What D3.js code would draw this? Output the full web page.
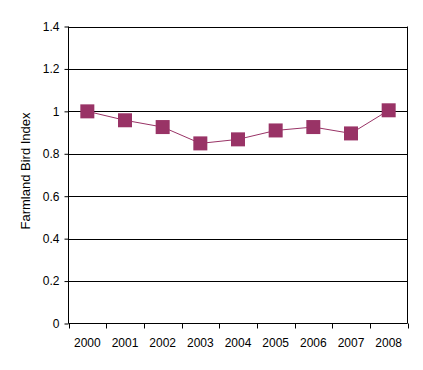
<!DOCTYPE html>
<html><head><meta charset="utf-8">
<script src="https://cdn.jsdelivr.net/npm/d3@7"></script>
<style>body{margin:0;background:#fff}svg{display:block}text{font-family:"Liberation Sans",Arial,sans-serif;}</style>
</head><body><svg id="c" width="423" height="370"></svg>
<script>
const years = ["2000","2001","2002","2003","2004","2005","2006","2007","2008"];
const birdIndex = [1.0, 0.958, 0.926, 0.849, 0.868, 0.910, 0.926, 0.896, 1.005];
const yTicks = [0, 0.2, 0.4, 0.6, 0.8, 1, 1.2, 1.4];
const yLabel = "Farmland Bird Index";

const svg = d3.select("#c");
const L = 68.5, R = 407.5, T = 26.5, B = 323.5;
const color = "#993366";
const x = d3.scaleBand().domain(years).range([L, R]).padding(0);
const y = d3.scaleLinear().domain([0, 1.4]).range([B, T]);

// gridlines
svg.append("g").selectAll("line").data(yTicks.filter(d => d > 0)).join("line")
  .attr("x1", L).attr("x2", R).attr("y1", d => Math.round(y(d)) + 0.5).attr("y2", d => Math.round(y(d)) + 0.5)
  .attr("stroke", "#000").attr("stroke-width", 1);
// right border
svg.append("line").attr("x1", R).attr("x2", R).attr("y1", T).attr("y2", B).attr("stroke", "#000");

// y axis
const yAxis = d3.axisLeft(y).tickValues(yTicks).tickFormat(d => String(d)).tickSize(4).tickPadding(5);
const gy = svg.append("g").attr("transform", `translate(${L},0)`).call(yAxis);
gy.select(".domain").attr("d", `M0,${T}V${B}`);
gy.selectAll("text").attr("font-size", 12).attr("font-family", "Liberation Sans, Arial, sans-serif").attr("fill", "#000");
gy.selectAll(".tick line").attr("stroke", "#000");

// x axis with ticks between categories
const gx = svg.append("g").attr("transform", `translate(0,${B})`);
gx.append("line").attr("x1", L).attr("x2", R).attr("y1", 0).attr("y2", 0).attr("stroke", "#000");
const bounds = years.map(d => x(d)).concat([x(years[years.length-1]) + x.bandwidth()]);
gx.selectAll("line.tk").data(bounds).join("line").attr("class", "tk")
  .attr("x1", d => Math.round(d) + 0.5).attr("x2", d => Math.round(d) + 0.5).attr("y1", 0).attr("y2", 5).attr("stroke", "#000");
gx.selectAll("text").data(years).join("text")
  .attr("x", d => x(d) + x.bandwidth() / 2).attr("y", 23)
  .attr("text-anchor", "middle").attr("font-size", 12).attr("fill", "#000").text(d => d);

// y label
svg.append("text").attr("transform", `translate(30,171) rotate(-90)`)
  .attr("text-anchor", "middle").attr("font-size", 13).attr("fill", "#000").text(yLabel);

// line
const cx = d => x(d) + x.bandwidth() / 2;
svg.append("path").datum(birdIndex)
  .attr("d", d3.line().x((d, i) => cx(years[i])).y(d => y(d)))
  .attr("fill", "none").attr("stroke", color).attr("stroke-width", 1);
// markers
const s = 14;
svg.append("g").selectAll("rect").data(birdIndex).join("rect")
  .attr("x", (d, i) => cx(years[i]) - s / 2).attr("y", d => y(d) - s / 2)
  .attr("width", s).attr("height", s).attr("fill", color);
</script></body></html>
